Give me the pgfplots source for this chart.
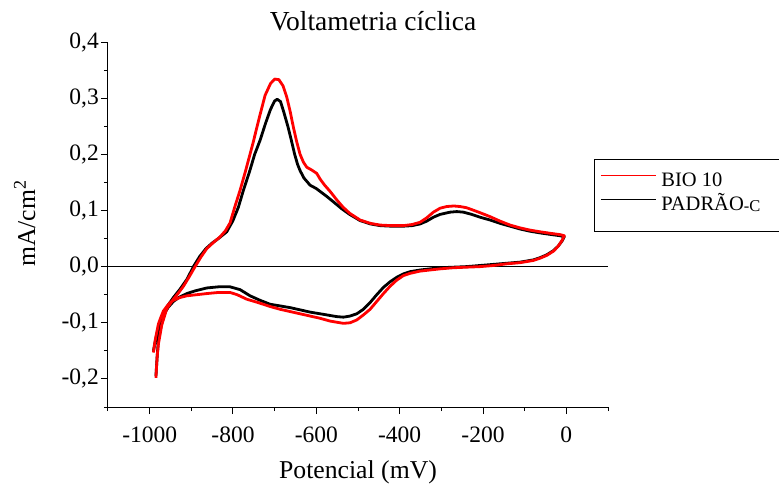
\documentclass[border=0pt]{standalone}
\usepackage{pgfplots}
\pgfplotsset{compat=1.18}
\usepackage{fontspec}
\setmainfont{Liberation Serif}
\begin{document}
\begin{tikzpicture}
\begin{axis}[
  scale only axis, width=500pt, height=365pt,
  xmin=-1100, xmax=100, ymin=-0.25, ymax=0.4,
  axis x line=bottom, axis y line=left,
  x axis line style={-}, y axis line style={-},
  axis line style={line width=1pt, black},
  tick align=outside,
  major tick length=7pt, minor tick length=4pt,
  every tick/.style={black, line width=1pt},
  xtick={-1000,-800,-600,-400,-200,0},
  xticklabels={-1000,-800,-600,-400,-200,0},
  minor xtick={-1100,-900,-700,-500,-300,-100,100},
  ytick={-0.2,-0.1,0,0.1,0.2,0.3,0.4},
  yticklabels={{-0,2},{-0,1},{0,0},{0,1},{0,2},{0,3},{0,4}},
  minor ytick={-0.25,-0.15,-0.05,0.05,0.15,0.25,0.35},
  xticklabel style={font=\fontsize{23.5}{27}\selectfont, inner sep=0pt, anchor=north, yshift=-13pt},
  yticklabel style={font=\fontsize{23.5}{27}\selectfont, inner sep=0pt, anchor=east, xshift=-2pt},
  title={Voltametria cíclica},
  title style={font=\fontsize{27.5}{32}\selectfont, at={(axis description cs:0.53,1.0164)}, anchor=base, inner sep=0pt},
  xlabel={Potencial (mV)},
  xlabel style={font=\fontsize{25.7}{30}\selectfont, at={(axis description cs:0.5,-0.1972)}, anchor=base, inner sep=0pt},
  ylabel={mA/cm\textsuperscript{2}},
  ylabel style={font=\fontsize{25.7}{30}\selectfont, at={(axis description cs:-0.146,0.503)}, anchor=base, inner sep=0pt},
  clip=false,
  reverse legend,
  legend cell align=left,
  legend style={
    at={(axis description cs:0.972,0.6795)}, anchor=north west,
    draw=black, line width=0.8pt, fill=white,
    inner xsep=6pt, inner ysep=12pt,
    font=\fontsize{20.5}{24}\selectfont,
    nodes={inner sep=0pt, text height=15pt, text depth=9pt},
    column sep=5pt, row sep=0pt,
  },
  legend image code/.code={\draw[#1, line width=1pt] (0pt,7.5pt) -- (55pt,7.5pt);},
]
\addplot[black, line width=1.1pt, forget plot] coordinates {(-1100,0) (100,0)};
% PADRAO-C (black)
\addplot[black, line width=2.8pt, line join=round] coordinates {
(-985,-0.195) (-982,-0.160) (-979,-0.130) (-971,-0.100) (-959,-0.072) (-943,-0.055)
(-927,-0.040) (-910,-0.022) (-895,0.000) (-880,0.018) (-865,0.032) (-850,0.042)
(-835,0.050) (-815,0.062) (-800,0.082) (-787,0.106) (-775,0.136) (-760,0.170)
(-748,0.200) (-735,0.225) (-722,0.255) (-710,0.280) (-700,0.295) (-694,0.298)
(-686,0.294) (-678,0.275) (-668,0.249) (-660,0.225) (-652,0.200) (-645,0.182)
(-639,0.171) (-630,0.158) (-615,0.145) (-600,0.139) (-591,0.134) (-575,0.125)
(-560,0.116) (-539,0.103) (-520,0.093) (-495,0.082) (-470,0.076) (-447,0.073)
(-420,0.072) (-391,0.072) (-370,0.073) (-351,0.076) (-335,0.081) (-319,0.088)
(-303,0.093) (-279,0.097) (-263,0.098) (-247,0.097) (-227,0.093) (-207,0.088)
(-183,0.083) (-159,0.077) (-135,0.072) (-111,0.067) (-87,0.063) (-63,0.060)
(-35,0.057) (-15,0.055) (-5,0.053)
(-10,0.046) (-19,0.037) (-30,0.029) (-47,0.021) (-63,0.016) (-79,0.012)
(-111,0.008) (-143,0.006) (-175,0.004) (-207,0.002) (-240,0.000) (-271,-0.001)
(-303,-0.002) (-327,-0.004) (-351,-0.006) (-375,-0.009) (-391,-0.013) (-407,-0.019)
(-423,-0.027) (-439,-0.037) (-455,-0.050) (-471,-0.064) (-487,-0.076) (-503,-0.084)
(-519,-0.088) (-535,-0.090) (-551,-0.089) (-567,-0.087) (-591,-0.084) (-615,-0.081)
(-639,-0.077) (-663,-0.073) (-687,-0.070) (-711,-0.067) (-735,-0.060) (-759,-0.052)
(-783,-0.041) (-807,-0.036) (-835,-0.036) (-863,-0.038) (-890,-0.043) (-911,-0.048)
(-930,-0.055) (-943,-0.062) (-955,-0.072) (-967,-0.086) (-975,-0.100) (-982,-0.118)
(-987,-0.135) (-991,-0.150)
};
\addlegendentry{\makebox[113pt][l]{PADRÃO{\fontsize{16.5}{18}\selectfont\raisebox{-1.5pt}{-C}}}}
% BIO 10 (red)
\addplot[red, line width=2.8pt, line join=round] coordinates {
(-985,-0.198) (-982,-0.160) (-979,-0.138) (-971,-0.104) (-959,-0.075) (-943,-0.058)
(-930,-0.046) (-919,-0.035) (-905,-0.018) (-891,0.000) (-877,0.017) (-863,0.032)
(-847,0.043) (-831,0.053) (-818,0.064) (-807,0.078) (-795,0.108) (-783,0.136)
(-770,0.170) (-752,0.220) (-737,0.265) (-723,0.305) (-710,0.326) (-700,0.334)
(-690,0.333) (-680,0.322) (-671,0.302) (-663,0.277) (-655,0.248) (-647,0.222)
(-639,0.200) (-631,0.186) (-623,0.177) (-611,0.172) (-599,0.166) (-591,0.156)
(-580,0.145) (-567,0.134) (-550,0.118) (-536,0.106) (-520,0.095) (-495,0.083)
(-470,0.077) (-447,0.074) (-420,0.073) (-391,0.073) (-370,0.075) (-351,0.079)
(-335,0.087) (-319,0.097) (-303,0.104) (-287,0.107) (-270,0.108) (-255,0.107)
(-240,0.105) (-225,0.101) (-207,0.096) (-183,0.089) (-159,0.081) (-135,0.074)
(-111,0.069) (-87,0.065) (-63,0.062) (-35,0.059) (-15,0.057) (-5,0.055)
(-10,0.047) (-19,0.037) (-30,0.028) (-47,0.020) (-63,0.015) (-79,0.011)
(-111,0.007) (-143,0.005) (-175,0.002) (-207,0.000) (-240,-0.001) (-271,-0.002)
(-303,-0.004) (-327,-0.006) (-351,-0.008) (-375,-0.012) (-391,-0.016) (-407,-0.024)
(-423,-0.035) (-439,-0.048) (-455,-0.062) (-471,-0.076) (-487,-0.086) (-503,-0.095)
(-519,-0.100) (-535,-0.101) (-551,-0.099) (-567,-0.097) (-591,-0.092) (-615,-0.088)
(-639,-0.084) (-663,-0.080) (-687,-0.076) (-711,-0.071) (-740,-0.064) (-767,-0.058)
(-790,-0.050) (-807,-0.046) (-835,-0.046) (-863,-0.048) (-887,-0.050) (-911,-0.052)
(-927,-0.055) (-943,-0.060) (-951,-0.064) (-959,-0.071) (-967,-0.079) (-973,-0.090)
(-979,-0.102) (-983,-0.117) (-987,-0.132) (-991,-0.153)
};
\addlegendentry{\makebox[113pt][l]{BIO 10}}
\end{axis}
\pgfresetboundingbox
\path[use as bounding box] (-108pt,-78pt) rectangle (671pt,407pt);
\end{tikzpicture}
\end{document}
